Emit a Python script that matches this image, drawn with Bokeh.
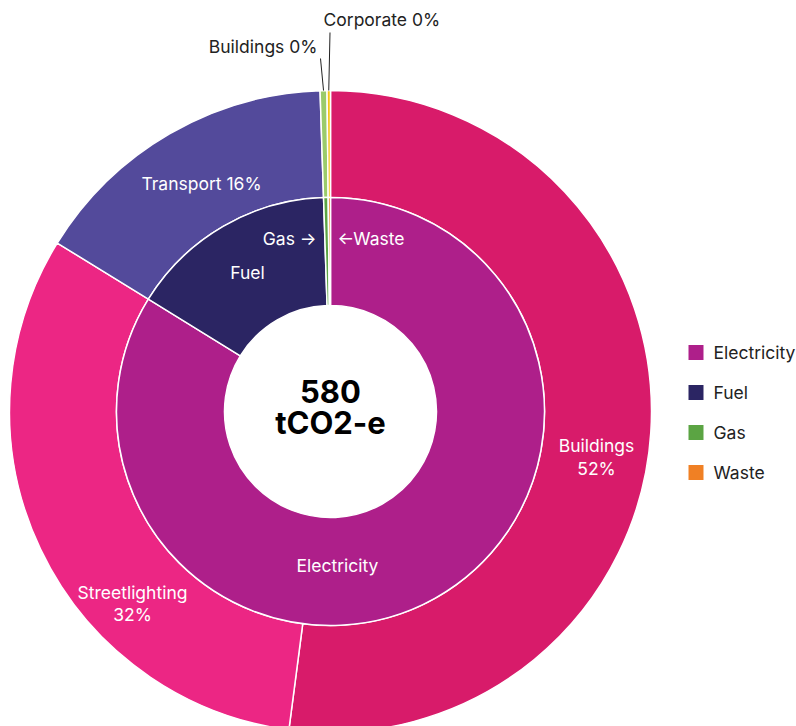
import numpy as np
from bokeh.plotting import figure
from bokeh.models import Range1d, ColumnDataSource
from bokeh.core.properties import value
from bokeh.embed import file_html
from bokeh.resources import INLINE

# ---- data ----
total_label = ["580", "tCO2-e"]
outer_labels = ["Buildings", "Streetlighting", "Transport", "Buildings", "Corporate"]
outer_pct = ["52%", "32%", "16%", "0%", "0%"]
outer_values = [302, 184, 91, 2, 1]
inner_labels = ["Electricity", "Fuel", "Gas", "Waste"]
inner_values = [486, 91, 2, 1]

# ---- styles ----
outer_colors = ["#D81B6A", "#EC2684", "#534A9B", "#9BCB6B", "#F5C518"]
inner_colors = ["#AE1F8A", "#2B2563", "#5BA443", "#F08024"]
FONT = "Inter"
W, H = 796, 726
CX, CY = 330, 315
R_HOLE, R_MID, R_OUT = 106, 214, 321
FS = "17.5px"


def angles(vals):
    v = np.array(vals, dtype=float)
    frac = v / v.sum()
    cum = np.concatenate([[0], np.cumsum(frac)])
    start = np.pi / 2 - 2 * np.pi * cum[:-1]
    end = np.pi / 2 - 2 * np.pi * cum[1:]
    mid = (start + end) / 2
    return start, end, mid


p = figure(width=W, height=H, x_range=Range1d(0, W), y_range=Range1d(0, H),
           output_backend="svg", toolbar_location=None, min_border=0)
p.axis.visible = False
p.grid.visible = False
p.outline_line_color = None
p.background_fill_color = "white"

os_, oe_, om_ = angles(outer_values)
is_, ie_, im_ = angles(inner_values)

src_out = ColumnDataSource(dict(x=[CX] * len(outer_values), y=[CY] * len(outer_values),
                                s=os_, e=oe_, c=outer_colors))
p.annular_wedge(x="x", y="y", inner_radius=R_MID, outer_radius=R_OUT,
                start_angle="s", end_angle="e", direction="clock",
                fill_color="c", line_color="white", line_width=1.5, source=src_out)

src_in = ColumnDataSource(dict(x=[CX] * len(inner_values), y=[CY] * len(inner_values),
                               s=is_, e=ie_, c=inner_colors))
p.annular_wedge(x="x", y="y", inner_radius=R_HOLE, outer_radius=R_MID,
                start_angle="s", end_angle="e", direction="clock",
                fill_color="c", line_color="white", line_width=1.5, source=src_in)

# ---- labels inside rings ----
white_labels = [
    (596, 281, outer_labels[0], "center"),
    (596, 258, outer_pct[0], "center"),
    (132, 134, outer_labels[1], "center"),
    (132, 112, outer_pct[1], "center"),
    (201, 543, f"{outer_labels[2]} {outer_pct[2]}", "center"),
    (337, 161, inner_labels[0], "center"),
    (247, 454, inner_labels[1], "center"),
    (316, 488, f"{inner_labels[2]} \u2192", "right"),
    (337, 488, f"\u2190{inner_labels[3]}", "left"),
]
for x, y, t, al in white_labels:
    p.text(x=[x], y=[y], text=[t], text_color="white", text_font=value(FONT),
           text_font_size=FS, text_align=al, text_baseline="middle")

# ---- leader labels for tiny slices ----
leader_tops = [(320, 668, 317, 680, "right"), (329.5, 694, 323, 707, "left")]
for i, (lx, ly, tx, ty, al) in zip([3, 4], leader_tops):
    x0 = CX + R_OUT * np.cos(om_[i])
    y0 = CY + R_OUT * np.sin(om_[i])
    p.line(x=[x0, lx], y=[y0, ly], line_color="#222222", line_width=1)
    p.text(x=[tx], y=[ty], text=[f"{outer_labels[i]} {outer_pct[i]}"], text_color="#222222",
           text_font=value(FONT), text_font_size=FS, text_align=al, text_baseline="middle")

# ---- center text ----
p.text(x=[CX, CX], y=[335, 304], text=total_label, text_color="black",
       text_font=value(FONT), text_font_size="31px", text_font_style="bold",
       text_align="center", text_baseline="middle")

# ---- legend ----
for k, (lab, col) in enumerate(zip(inner_labels, inner_colors)):
    yy = 374 - 40 * k
    p.rect(x=[695.5], y=[yy], width=15, height=15, fill_color=col, line_color=None)
    p.text(x=[713], y=[yy], text=[lab], text_color="#222222", text_font=value(FONT),
           text_font_size=FS, text_align="left", text_baseline="middle")

open("out.html", "w").write(file_html(p, INLINE))
